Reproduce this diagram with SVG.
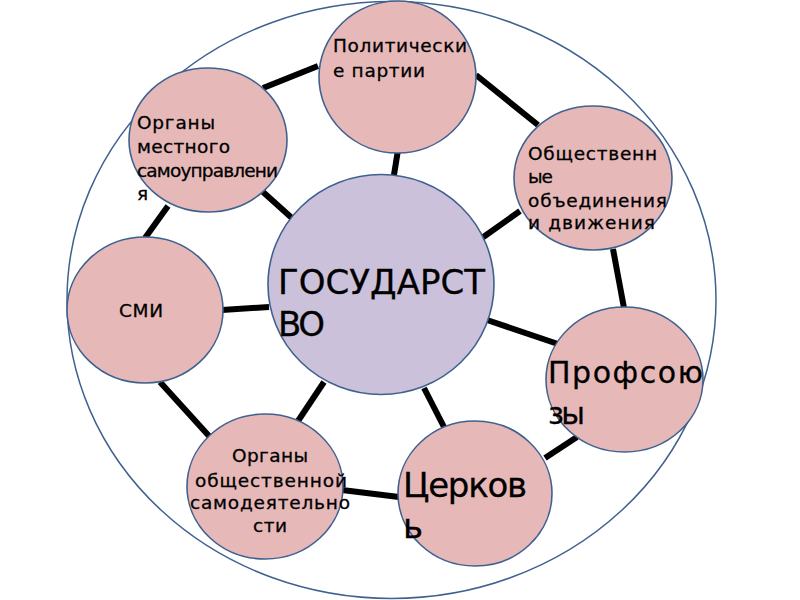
<svg xmlns="http://www.w3.org/2000/svg" width="800" height="600" viewBox="0 0 800 600">
<style>
.outer{fill:none;stroke:#3f6190;stroke-width:1.5}
.node{fill:#e6b9b8;stroke:#3f6190;stroke-width:1.6}
.center{fill:#ccc1da;stroke:#3f6190;stroke-width:1.6}
.conn line{stroke:#000;stroke-width:6}
text{font-family:"DejaVu Sans","Noto Sans",sans-serif;fill:#000;stroke:#000;stroke-width:0.3}
.s{font-size:18.5px}
</style>
<rect width="800" height="600" fill="#fff"/>
<ellipse class="outer" cx="391.5" cy="300" rx="324.5" ry="298.5"/>
<g id="connectors" class="conn">
<line x1="263" y1="88" x2="318" y2="66"/>
<line x1="476" y1="75" x2="538" y2="125"/>
<line x1="398" y1="150" x2="393" y2="181"/>
<line x1="263" y1="192" x2="293" y2="219"/>
<line x1="168" y1="206" x2="145" y2="238"/>
<line x1="520" y1="211" x2="482" y2="238"/>
<line x1="613" y1="249" x2="624" y2="308"/>
<line x1="487" y1="320" x2="558" y2="344"/>
<line x1="222" y1="310" x2="269" y2="307"/>
<line x1="160" y1="382" x2="209" y2="436"/>
<line x1="324" y1="382" x2="298" y2="421"/>
<line x1="342" y1="490" x2="399" y2="497"/>
<line x1="424" y1="388" x2="444" y2="427"/>
<line x1="577" y1="437" x2="545" y2="458"/>
</g>
<g id="n-parties">
<ellipse class="node" cx="397.5" cy="77" rx="78.5" ry="76"/>
<text class="s" x="333" y="52" textLength="134" lengthAdjust="spacing">Политически</text>
<text class="s" x="333" y="77" textLength="92" lengthAdjust="spacing">е партии</text>
</g>
<g id="n-local">
<ellipse class="node" cx="208" cy="140" rx="79" ry="72"/>
<text class="s" x="137" y="129" textLength="78" lengthAdjust="spacing">Органы</text>
<text class="s" x="137" y="153" textLength="93" lengthAdjust="spacing">местного</text>
<text class="s" x="137" y="177" textLength="141" lengthAdjust="spacing">самоуправлени</text>
<text class="s" x="137" y="200">я</text>
</g>
<g id="n-associations">
<ellipse class="node" cx="593" cy="178" rx="79" ry="72"/>
<text class="s" x="528" y="160" textLength="129" lengthAdjust="spacing">Общественн</text>
<text class="s" x="528" y="183" textLength="25" lengthAdjust="spacing">ые</text>
<text class="s" x="528" y="207" textLength="139" lengthAdjust="spacing">объединения</text>
<text class="s" x="528" y="229" textLength="127" lengthAdjust="spacing">и движения</text>
</g>
<g id="n-smi">
<ellipse class="node" cx="145" cy="310" rx="78" ry="73"/>
<text class="s" x="119" y="317" textLength="44" lengthAdjust="spacing">СМИ</text>
</g>
<g id="n-unions">
<ellipse class="node" cx="624.5" cy="379.5" rx="78.5" ry="72.5"/>
<text x="548" y="383" font-size="30" textLength="155" lengthAdjust="spacing">Профсою</text>
<text x="548" y="424" font-size="30" textLength="37" lengthAdjust="spacing">зы</text>
</g>
<g id="n-church">
<ellipse class="node" cx="475" cy="493.5" rx="77" ry="72.5"/>
<text x="403" y="497" font-size="34" textLength="124" lengthAdjust="spacing">Церков</text>
<text x="403" y="538" font-size="34">ь</text>
</g>
<g id="n-selfgov">
<ellipse class="node" cx="265" cy="486.5" rx="78" ry="72.5"/>
<text class="s" x="270" y="462" text-anchor="middle" textLength="76" lengthAdjust="spacing">Органы</text>
<text class="s" x="271" y="487" text-anchor="middle" textLength="152" lengthAdjust="spacing">общественной</text>
<text class="s" x="270" y="509" text-anchor="middle" textLength="160" lengthAdjust="spacing">самодеятельно</text>
<text class="s" x="270" y="532" text-anchor="middle" textLength="34" lengthAdjust="spacing">сти</text>
</g>
<g id="n-state">
<ellipse class="center" cx="381" cy="284.5" rx="113" ry="110"/>
<text x="278" y="294" font-size="34" textLength="207" lengthAdjust="spacing">ГОСУДАРСТ</text>
<text x="278" y="336" font-size="34" textLength="47" lengthAdjust="spacing">ВО</text>
</g>
</svg>
